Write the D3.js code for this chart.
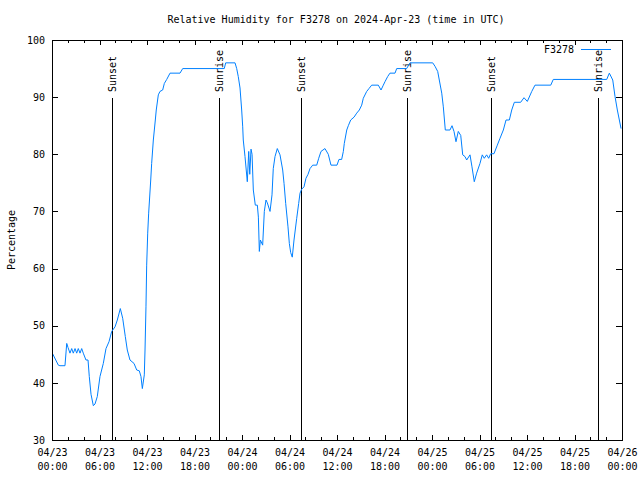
<!DOCTYPE html>
<html><head><meta charset="utf-8">
<script src="https://cdn.jsdelivr.net/npm/d3@7"></script>
<style>
body{margin:0;background:#fff;}
svg{display:block;}
text{font-family:"DejaVu Sans Mono",monospace;font-size:10px;fill:#000;}
</style></head>
<body>
<svg id="c" width="640" height="480"></svg>
<script>
// hours since 2024-04-23 00:00 UTC
const hoursSinceStart = [0.04,0.8,1.0,1.64,1.86,2.02,2.27,2.49,2.69,2.91,3.12,3.32,3.54,3.75,3.95,4.29,4.55,4.71,4.93,5.22,5.43,5.72,6.06,6.48,6.82,7.2,7.54,7.96,8.25,8.63,8.93,9.26,9.51,9.85,10.36,10.7,11.03,11.24,11.41,11.66,11.75,11.87,11.96,12.09,12.21,12.47,12.59,12.8,13.05,13.17,13.43,13.64,13.98,14.19,14.49,14.91,16.17,16.51,21.76,21.94,23.12,23.33,23.53,23.75,23.96,24.09,24.16,24.38,24.67,24.85,24.98,25.14,25.27,25.43,25.68,25.94,26.07,26.19,26.32,26.61,26.82,27.03,27.2,27.54,27.79,27.95,28.17,28.46,28.8,29.14,29.31,29.52,29.81,29.98,30.15,30.35,30.57,30.91,31.16,31.33,31.54,31.83,32.08,32.34,32.59,32.93,33.44,33.69,33.98,34.48,34.9,35.24,36.0,36.25,36.59,36.8,36.92,37.23,37.43,37.73,38.15,38.49,38.82,39.12,39.32,39.75,40.04,40.38,41.22,41.56,41.85,42.06,42.4,42.69,43.33,43.54,44.8,45.22,48.09,48.38,48.72,48.92,49.23,49.43,49.68,50.27,50.53,50.78,51.03,51.32,51.63,51.88,52.17,52.38,52.8,53.05,53.34,53.64,54.06,54.35,54.6,54.9,55.16,55.41,55.83,56.25,56.59,57.01,57.35,57.77,58.07,58.4,59.2,59.62,60.04,60.6,61.01,63.0,63.32,70.07,70.4,70.83,71.12,71.41,71.88];
const humidity = [45.2,43.1,43,43,46.9,46.2,45.2,46,45.2,46,45.2,46,45.2,46,45.2,44,44,41.1,38,36,36.3,37.6,41.1,43.4,46,47.2,49,49.8,51,53,51.3,48.1,45.75,44,43.4,42.25,42.1,41.1,39,41.4,45.75,53.3,60.6,66.2,69.7,75.5,78.4,82.5,86,87.75,90.4,91,91.25,92.4,93.1,94.2,94.2,95,95,96,96,95,93.6,91.6,87.75,84.8,82.5,79.6,75.2,80.5,76.5,80.9,80,73.75,71.1,71.1,69,63,65,64.1,70,72,71.5,70,72.9,77.5,79.6,81,79.9,77.25,74.9,71.4,67.3,64.4,62.8,62,65,68.8,71.4,73.2,73.9,74.3,75.8,76.5,77.5,78.1,78.1,79.3,80.5,81,80,78.1,78.1,79.1,79.1,80.5,81.9,84.25,85,86,86.5,87.2,87.75,88.6,89.8,91,91.5,92.1,92.1,91.25,92.1,92.7,93.6,94.2,94.2,95,95,96,96,95.4,94.5,93,90.7,88.3,84.25,84.25,85,84,82.2,84,83.3,79.9,79.6,79,79.9,77.8,75.2,76.7,78.4,79.9,79.3,79.9,79.3,80.1,80.1,81.6,82.8,84.25,86,86,87.75,89.1,89.1,89.9,89.25,91,92.1,92.1,93.1,93.1,94.2,93,90.1,87.75,84.5];
const eventHours = [7.58,21.1,31.45,44.84,55.45,68.97];
const eventLabels = ["Sunset","Sunrise","Sunset","Sunrise","Sunset","Sunrise"];
const yTicks = [30,40,50,60,70,80,90,100];
const seriesName = "F3278";
const titleText = "Relative Humidity for F3278 on 2024-Apr-23 (time in UTC)";
const yLabel = "Percentage";

const t0 = Date.UTC(2024,3,23,0,0);
const toDate = h => new Date(t0 + h*3600e3);
const L=52, R=622, T=40, B=440;
const svg = d3.select("#c");
const x = d3.scaleUtc().domain([toDate(0), toDate(72)]).range([L,R]);
const y = d3.scaleLinear().domain([30,100]).range([B,T]);
const color = "#0080ff";

const g = svg.append("g").attr("shape-rendering","crispEdges");
const fmt1 = d3.utcFormat("%m/%d"), fmt2 = d3.utcFormat("%H:%M");

// minor x ticks
g.append("g").attr("transform",`translate(0,${B})`)
  .call(d3.axisBottom(x).ticks(d3.utcHour.every(2)).tickSizeInner(-3).tickSizeOuter(0).tickFormat(""))
  .call(s=>s.select(".domain").remove());
g.append("g").attr("transform",`translate(0,${T})`)
  .call(d3.axisTop(x).ticks(d3.utcHour.every(2)).tickSizeInner(-3).tickSizeOuter(0).tickFormat(""))
  .call(s=>s.select(".domain").remove());
// major x ticks
const xb = g.append("g").attr("transform",`translate(0,${B})`)
  .call(d3.axisBottom(x).ticks(d3.utcHour.every(6)).tickSizeInner(-5).tickSizeOuter(0).tickPadding(12).tickFormat(""))
  .call(s=>s.select(".domain").remove());
xb.selectAll(".tick").each(function(d){
  const t = d3.select(this).select("text").attr("y",null).attr("dy",null)
    .style("font-family",'"DejaVu Sans Mono",monospace').style("font-size","10px");
  t.append("tspan").attr("x",0).attr("y",16).text(fmt1(d));
  t.append("tspan").attr("x",0).attr("y",30).text(fmt2(d));
});
g.append("g").attr("transform",`translate(0,${T})`)
  .call(d3.axisTop(x).ticks(d3.utcHour.every(6)).tickSizeInner(-5).tickSizeOuter(0).tickFormat(""))
  .call(s=>s.select(".domain").remove());
// y ticks
g.append("g").attr("transform",`translate(${L},0)`)
  .call(d3.axisLeft(y).tickValues(yTicks).tickSizeInner(-6).tickSizeOuter(0).tickPadding(7))
  .call(s=>s.select(".domain").remove())
  .call(s=>s.selectAll("text").style("font-family",'"DejaVu Sans Mono",monospace').style("font-size","10px"));
g.append("g").attr("transform",`translate(${R},0)`)
  .call(d3.axisRight(y).tickValues(yTicks).tickSizeInner(-6).tickSizeOuter(0).tickFormat(""))
  .call(s=>s.select(".domain").remove());
svg.selectAll(".tick line").attr("stroke","#000");

// event lines
const ev = svg.append("g");
eventHours.forEach((h,i)=>{
  const xx = Math.round(x(toDate(h)))+0.5;
  ev.append("line").attr("x1",xx).attr("x2",xx).attr("y1",B).attr("y2",98)
    .attr("stroke","#000").attr("shape-rendering","crispEdges");
  ev.append("text").attr("transform",`translate(${xx},92) rotate(-90)`)
    .attr("text-anchor","start").attr("dy","0.35em").text(eventLabels[i]);
});

// data line
const data = hoursSinceStart.map((h,i)=>({t:toDate(h),v:humidity[i]}));
svg.append("path").datum(data)
  .attr("fill","none").attr("stroke",color).attr("stroke-width",1)
  .attr("d", d3.line().x(d=>x(d.t)).y(d=>y(d.v)));

// border
svg.append("rect").attr("x",L+0.5).attr("y",T+0.5).attr("width",R-L).attr("height",B-T)
  .attr("fill","none").attr("stroke","#000").attr("shape-rendering","crispEdges");

// legend
svg.append("text").attr("x",574).attr("y",53).attr("text-anchor","end").text(seriesName);
svg.append("line").attr("x1",581).attr("x2",611).attr("y1",49.5).attr("y2",49.5)
  .attr("stroke",color).attr("shape-rendering","crispEdges");

// title & y label
svg.append("text").attr("x",336).attr("y",23).attr("text-anchor","middle").text(titleText);
svg.append("text").attr("transform","translate(11,240) rotate(-90)").attr("text-anchor","middle")
  .attr("dy","0.35em").text(yLabel);
</script>
</body></html>
